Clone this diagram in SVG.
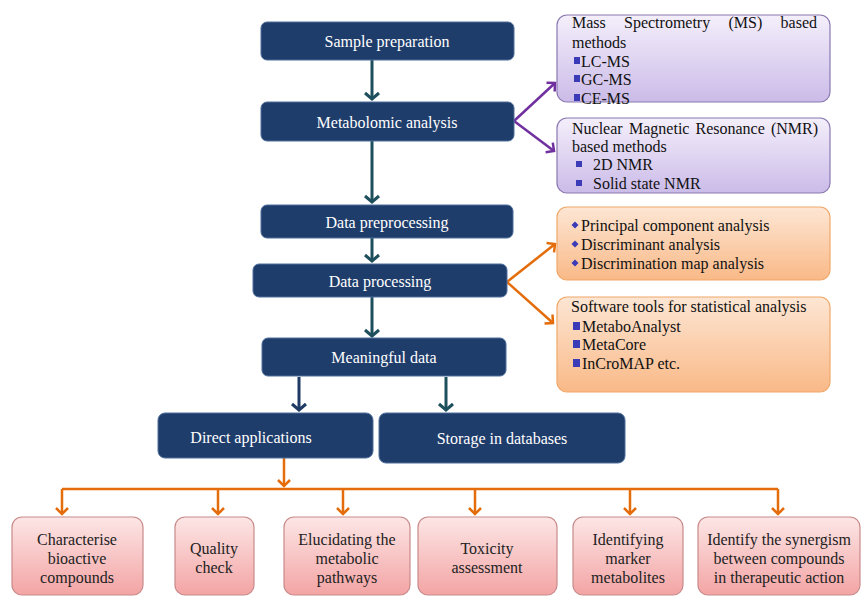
<svg xmlns="http://www.w3.org/2000/svg" width="863" height="597" viewBox="0 0 863 597" font-family="Liberation Serif, serif">
<defs>
<style>
.dk{fill:#1f3d6b;stroke:#4f6f9c;stroke-width:1}
.dt{font-size:16px;fill:#ffffff;text-anchor:middle;dominant-baseline:central}
.bt{font-size:16px;fill:#111111;dominant-baseline:central}
.pt{font-size:16px;fill:#222222;text-anchor:middle;dominant-baseline:central}
.pu{fill:url(#gPu);stroke:#8a78b0;stroke-width:1.2}
.or{fill:url(#gOr);stroke:#f0a868;stroke-width:1.2}
.pk{fill:url(#gPk);stroke:#c88a8a;stroke-width:1.2}
.teal{stroke:#1d4f5c;stroke-width:3;fill:none}
.navy{stroke:#1f3a64;stroke-width:3;fill:none}
.purp{stroke:#7030a0;stroke-width:2.5;fill:none}
.orl{stroke:#e46c0a;stroke-width:2.5;fill:none}
.sq{fill:#3b3bb8}
</style>
<linearGradient id="gPu" x1="0" y1="0" x2="0" y2="1"><stop offset="0" stop-color="#f4effb"/><stop offset="1" stop-color="#cbbbe8"/></linearGradient>
<linearGradient id="gOr" x1="0" y1="0" x2="0" y2="1"><stop offset="0" stop-color="#fde6d4"/><stop offset="1" stop-color="#f9b987"/></linearGradient>
<linearGradient id="gPk" x1="0" y1="0" x2="0" y2="1"><stop offset="0" stop-color="#fde6e6"/><stop offset="1" stop-color="#f3a4a4"/></linearGradient>
<marker id="aT" markerUnits="userSpaceOnUse" markerWidth="16" markerHeight="16" refX="8" refY="8" orient="auto" viewBox="0 0 16 16"><path d="M2,1 L8,8 L2,15" fill="none" stroke="#1d4f5c" stroke-width="3"/></marker>
<marker id="aN" markerUnits="userSpaceOnUse" markerWidth="16" markerHeight="16" refX="8" refY="8" orient="auto" viewBox="0 0 16 16"><path d="M2,1 L8,8 L2,15" fill="none" stroke="#1f3a64" stroke-width="3"/></marker>
<marker id="aP" markerUnits="userSpaceOnUse" markerWidth="16" markerHeight="16" refX="8" refY="8" orient="auto" viewBox="0 0 16 16"><path d="M2,2 L8,8 L2,14" fill="none" stroke="#7030a0" stroke-width="2.5"/></marker>
<marker id="aO" markerUnits="userSpaceOnUse" markerWidth="16" markerHeight="16" refX="8" refY="8" orient="auto" viewBox="0 0 16 16"><path d="M2,2 L8,8 L2,14" fill="none" stroke="#e46c0a" stroke-width="2.5"/></marker>
</defs>
<rect width="863" height="597" fill="#ffffff"/>

<g id="connectors">
<line class="teal" x1="372" y1="60" x2="372" y2="99" marker-end="url(#aT)"/>
<line class="teal" x1="372" y1="141" x2="372" y2="202" marker-end="url(#aT)"/>
<line class="teal" x1="372" y1="238" x2="372" y2="261" marker-end="url(#aT)"/>
<line class="teal" x1="372" y1="297" x2="372" y2="336" marker-end="url(#aT)"/>
<line class="navy" x1="299" y1="377" x2="299" y2="410" marker-end="url(#aN)"/>
<line class="teal" x1="446" y1="377" x2="446" y2="410" marker-end="url(#aT)"/>
<polyline class="purp" points="514,121 555,83" marker-end="url(#aP)"/>
<polyline class="purp" points="514,121 554,151" marker-end="url(#aP)"/>
<polyline class="orl" points="507,282 555,244" marker-end="url(#aO)"/>
<polyline class="orl" points="507,282 553,323" marker-end="url(#aO)"/>
<line class="orl" x1="284" y1="458" x2="284" y2="486" marker-end="url(#aO)"/>
<line class="orl" x1="62" y1="489" x2="778" y2="489"/>
<line class="orl" x1="62" y1="489" x2="62" y2="514" marker-end="url(#aO)"/>
<line class="orl" x1="218" y1="489" x2="218" y2="514" marker-end="url(#aO)"/>
<line class="orl" x1="343" y1="489" x2="343" y2="514" marker-end="url(#aO)"/>
<line class="orl" x1="475" y1="489" x2="475" y2="514" marker-end="url(#aO)"/>
<line class="orl" x1="630" y1="489" x2="630" y2="514" marker-end="url(#aO)"/>
<line class="orl" x1="778" y1="489" x2="778" y2="514" marker-end="url(#aO)"/>
</g>

<g id="sample-preparation"><rect class="dk" x="261" y="22" width="253" height="38" rx="6"/><text class="dt" x="387" y="41">Sample preparation</text></g>
<g id="metabolomic-analysis"><rect class="dk" x="261" y="102" width="253" height="39" rx="6"/><text class="dt" x="387" y="122">Metabolomic analysis</text></g>
<g id="data-preprocessing"><rect class="dk" x="261" y="205" width="252" height="33" rx="6"/><text class="dt" x="387" y="222">Data preprocessing</text></g>
<g id="data-processing"><rect class="dk" x="253" y="264" width="254" height="33" rx="6"/><text class="dt" x="380" y="281">Data processing</text></g>
<g id="meaningful-data"><rect class="dk" x="262" y="338" width="244" height="38" rx="6"/><text class="dt" x="384" y="357">Meaningful data</text></g>
<g id="direct-applications"><rect class="dk" x="158" y="413" width="215" height="45" rx="7"/><text class="dt" x="251" y="437">Direct applications</text></g>
<g id="storage-databases"><rect class="dk" x="379" y="413" width="246" height="50" rx="7"/><text class="dt" x="502" y="438">Storage in databases</text></g>

<g id="ms-methods"><rect class="pu" x="557" y="15" width="273" height="87" rx="10"/>
<text class="bt" x="572" y="22">Mass</text><text class="bt" x="624" y="22">Spectrometry</text><text class="bt" x="728.5" y="22">(MS)</text><text class="bt" x="817" y="22" text-anchor="end">based</text>
<text class="bt" x="572" y="42">methods</text>
<rect class="sq" x="574" y="57" width="6" height="7"/><text class="bt" x="581" y="61">LC-MS</text>
<rect class="sq" x="574" y="75" width="6" height="7"/><text class="bt" x="581" y="79">GC-MS</text>
<rect class="sq" x="574" y="94" width="6" height="7"/><text class="bt" x="581" y="98">CE-MS</text>
</g>
<g id="nmr-methods"><rect class="pu" x="557" y="118" width="273" height="75" rx="10"/>
<text class="bt" x="572" y="128">Nuclear</text><text class="bt" x="629" y="128">Magnetic</text><text class="bt" x="695.5" y="128">Resonance</text><text class="bt" x="818" y="128" text-anchor="end">(NMR)</text>
<text class="bt" x="572" y="146">based methods</text>
<rect class="sq" x="576" y="161" width="6" height="6"/><text class="bt" x="593" y="164">2D NMR</text>
<rect class="sq" x="576" y="180" width="6" height="6"/><text class="bt" x="593" y="183">Solid state NMR</text>
</g>
<g id="statistical-analysis"><rect class="or" x="557" y="207" width="273" height="73" rx="10"/>
<path class="sq" d="M575,221.5 l3.5,3.5 l-3.5,3.5 l-3.5,-3.5z"/><text class="bt" x="581" y="225">Principal component analysis</text>
<path class="sq" d="M575,240.5 l3.5,3.5 l-3.5,3.5 l-3.5,-3.5z"/><text class="bt" x="581" y="244">Discriminant analysis</text>
<path class="sq" d="M575,259.5 l3.5,3.5 l-3.5,3.5 l-3.5,-3.5z"/><text class="bt" x="581" y="263">Discrimination map analysis</text>
</g>
<g id="software-tools"><rect class="or" x="557" y="297" width="273" height="95" rx="10"/>
<text class="bt" x="571" y="306">Software tools for statistical analysis</text>
<rect class="sq" x="573" y="322" width="7" height="8"/><text class="bt" x="582" y="326">MetaboAnalyst</text>
<rect class="sq" x="573" y="340" width="7" height="8"/><text class="bt" x="582" y="344">MetaCore</text>
<rect class="sq" x="573" y="359" width="7" height="8"/><text class="bt" x="582" y="363">InCroMAP  etc.</text>
</g>

<g id="characterise"><rect class="pk" x="12" y="517" width="131" height="78" rx="10"/><text class="pt" x="77" y="539">Characterise</text><text class="pt" x="77" y="558">bioactive</text><text class="pt" x="77" y="577">compounds</text></g>
<g id="quality-check"><rect class="pk" x="175" y="517" width="79" height="78" rx="10"/><text class="pt" x="214" y="548">Quality</text><text class="pt" x="214" y="567">check</text></g>
<g id="elucidating"><rect class="pk" x="284" y="517" width="126" height="78" rx="10"/><text class="pt" x="347" y="539">Elucidating the</text><text class="pt" x="347" y="558">metabolic</text><text class="pt" x="347" y="577">pathways</text></g>
<g id="toxicity"><rect class="pk" x="418" y="517" width="139" height="78" rx="10"/><text class="pt" x="487" y="548">Toxicity</text><text class="pt" x="487" y="567">assessment</text></g>
<g id="marker-metabolites"><rect class="pk" x="573" y="517" width="110" height="78" rx="10"/><text class="pt" x="628" y="539">Identifying</text><text class="pt" x="628" y="558">marker</text><text class="pt" x="628" y="577">metabolites</text></g>
<g id="synergism"><rect class="pk" x="698" y="517" width="162" height="78" rx="10"/><text class="pt" x="779" y="539">Identify the synergism</text><text class="pt" x="779" y="558">between compounds</text><text class="pt" x="779" y="577">in therapeutic action</text></g>
</svg>
